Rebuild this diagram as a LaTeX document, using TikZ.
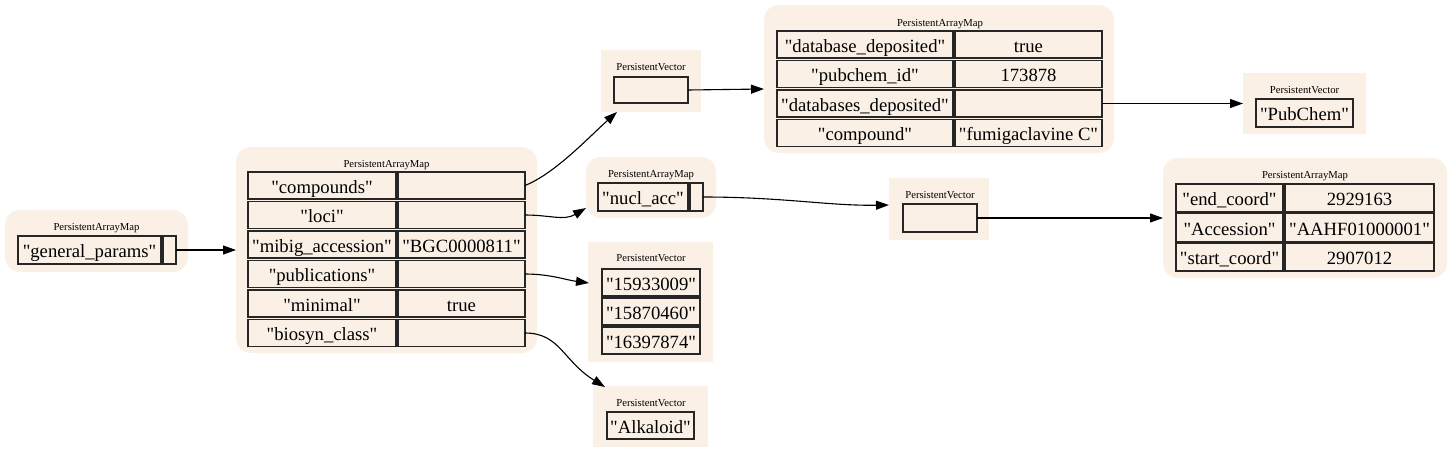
\documentclass[tikz,border=0pt]{standalone}
\usepackage{fontspec}
\setmainfont{Liberation Serif}[Ligatures=TeXOff]
\usetikzlibrary{arrows.meta,calc}
\definecolor{linen}{HTML}{FAF0E6}
\newcommand\cellfnt{\fontsize{18.67}{20}\selectfont}
\newcommand\ttlfnt{\fontsize{10.67}{12}\selectfont}
\begin{document}
\begin{tikzpicture}[x=1pt,y=-1pt,
  container/.style={fill=linen, draw=none, inner sep=0pt, outer sep=0pt},
  mapbox/.style={container, rounded corners=15pt},
  vecbox/.style={container},
  cell/.style={draw=black!85, line width=1.3pt, fill=linen, inner sep=0pt, outer sep=0pt,
    font=\cellfnt, text height=15pt, text depth=0pt, minimum height=27pt},
  ttl/.style={font=\ttlfnt, inner sep=0pt, text height=7.5pt, text depth=0pt},
  edge/.style={draw=black, line width=1.1pt, -{Triangle[length=13pt,width=9pt]}}]
\useasboundingbox (0,0) rectangle (1452,453);

% ---------- general_params map
\node[mapbox, minimum width=183pt, minimum height=62pt] (gpm) at (96.5,241) {};
\node[ttl] (gpmt) at (96.5,227) {PersistentArrayMap};
\node[cell, minimum width=143pt, minimum height=28pt] (gpk) at (89.5,250) {"general\_params"};
\node[cell, minimum width=13pt, minimum height=28pt] (gpv) at (169.5,250) {};

% ---------- big map
\node[mapbox, minimum width=301pt, minimum height=206pt] (bm) at (386.5,250) {};
\node[ttl] (bmt) at (386.5,164) {PersistentArrayMap};
\node[cell, minimum width=148pt] (bm1k) at (322,185.5) {"compounds"};
\node[cell, minimum width=127pt] (bm1v) at (461.5,185.5) {};
\node[cell, minimum width=148pt] (bm2k) at (322,215) {"loci"};
\node[cell, minimum width=127pt] (bm2v) at (461.5,215) {};
\node[cell, minimum width=148pt] (bm3k) at (322,244.5) {"mibig\_accession"};
\node[cell, minimum width=127pt] (bm3v) at (461.5,244.5) {"BGC0000811"};
\node[cell, minimum width=148pt] (bm4k) at (322,274) {"publications"};
\node[cell, minimum width=127pt] (bm4v) at (461.5,274) {};
\node[cell, minimum width=148pt] (bm5k) at (322,303.5) {"minimal"};
\node[cell, minimum width=127pt] (bm5v) at (461.5,303.5) {true};
\node[cell, minimum width=148pt] (bm6k) at (322,333) {"biosyn\_class"};
\node[cell, minimum width=127pt] (bm6v) at (461.5,333) {};

% ---------- vector 1 (compounds)
\node[vecbox, minimum width=100pt, minimum height=62pt] (v1) at (651,81) {};
\node[ttl] (v1t) at (651,67) {PersistentVector};
\node[cell, minimum width=74pt, minimum height=26pt] (v1c) at (651,90) {};

% ---------- compound map
\node[mapbox, minimum width=350pt, minimum height=148pt] (cm) at (939,79) {};
\node[ttl] (cmt) at (940,23) {PersistentArrayMap};
\node[cell, minimum width=176pt] (cm1k) at (865,44.5) {"database\_deposited"};
\node[cell, minimum width=147pt] (cm1v) at (1028.5,44.5) {true};
\node[cell, minimum width=176pt] (cm2k) at (865,74) {"pubchem\_id"};
\node[cell, minimum width=147pt] (cm2v) at (1028.5,74) {173878};
\node[cell, minimum width=176pt] (cm3k) at (865,103.5) {"databases\_deposited"};
\node[cell, minimum width=147pt] (cm3v) at (1028.5,103.5) {};
\node[cell, minimum width=176pt] (cm4k) at (865,133) {"compound"};
\node[cell, minimum width=147pt] (cm4v) at (1028.5,133) {"fumigaclavine C"};

% ---------- PubChem vector
\node[vecbox, minimum width=123pt, minimum height=61pt] (pc) at (1304.5,103.5) {};
\node[ttl] (pct) at (1304.5,90) {PersistentVector};
\node[cell, minimum width=97pt, minimum height=28pt] (pcc) at (1304.5,113) {"PubChem"};

% ---------- nucl_acc map
\node[mapbox, minimum width=130pt, minimum height=61pt] (nm) at (651,187.5) {};
\node[ttl] (nmt) at (651,174) {PersistentArrayMap};
\node[cell, minimum width=90pt, minimum height=28pt] (nmk) at (643,197) {"nucl\_acc"};
\node[cell, minimum width=13pt, minimum height=28pt] (nmv) at (696.5,197) {};

% ---------- vector 2
\node[vecbox, minimum width=100pt, minimum height=62pt] (v2) at (939,209) {};
\node[ttl] (v2t) at (940,195) {PersistentVector};
\node[cell, minimum width=74pt, minimum height=28pt] (v2c) at (940,218) {};

% ---------- coord map
\node[mapbox, minimum width=284pt, minimum height=120pt] (km) at (1305,218) {};
\node[ttl] (kmt) at (1305,175) {PersistentArrayMap};
\node[cell, minimum width=107pt, minimum height=28pt] (km1k) at (1229.5,198) {"end\_coord"};
\node[cell, minimum width=149pt, minimum height=28pt] (km1v) at (1359.5,198) {2929163};
\node[cell, minimum width=107pt, minimum height=28pt] (km2k) at (1229.5,227.5) {"Accession"};
\node[cell, minimum width=149pt, minimum height=28pt] (km2v) at (1359.5,227.5) {"AAHF01000001"};
\node[cell, minimum width=107pt, minimum height=28pt] (km3k) at (1229.5,257) {"start\_coord"};
\node[cell, minimum width=149pt, minimum height=28pt] (km3v) at (1359.5,257) {2907012};

% ---------- publications vector
\node[vecbox, minimum width=125pt, minimum height=120pt] (pv) at (650.5,302) {};
\node[ttl] (pvt) at (651,258) {PersistentVector};
\node[cell, minimum width=98pt] (pv1) at (651,282.5) {"15933009"};
\node[cell, minimum width=98pt] (pv2) at (651,311.5) {"15870460"};
\node[cell, minimum width=98pt] (pv3) at (651,340.5) {"16397874"};

% ---------- Alkaloid vector
\node[vecbox, minimum width=115pt, minimum height=61pt] (av) at (650.5,416.5) {};
\node[ttl] (avt) at (651,403) {PersistentVector};
\node[cell, minimum width=87pt] (avc) at (650.5,425.5) {"Alkaloid"};

% ---------- connectors
\draw[edge] (gpv.east) -- (bm.west);
\draw[edge] (bm1v.east) .. controls ($(bm1v.east)+(30,-12)$) and ($(v1.south west)+(-12,25)$) .. ($(v1.south west)+(16,0)$);
\draw[edge] (bm2v.east) .. controls ($(bm2v.east)+(25,0)$) and ($(nm.south west)+(-22,3)$) .. ($(nm.south west)+(0,-10)$);
\draw[edge] (bm4v.east) .. controls ($(bm4v.east)+(25,0)$) and ($(pv.north west)+(-22,38)$) .. ($(pv.north west)+(1,41)$);
\draw[edge] (bm6v.east) .. controls ($(bm6v.east)+(35,0)$) and ($(av.north west)+(-30,-25)$) .. ($(av.north west)+(12,1)$);
\draw[edge] (v1c.east) -- ($(cm.west)+(0,10)$);
\draw[edge] (cm3v.east) -- (pc.west);
\draw[edge] (nmv.east) .. controls ($(nmv.east)+(80,0)$) and ($(v2.west)+(-60,-3)$) .. ($(v2.west)+(0,-4)$);
\draw[edge] (v2c.east) -- (km.west);
\end{tikzpicture}
\end{document}
